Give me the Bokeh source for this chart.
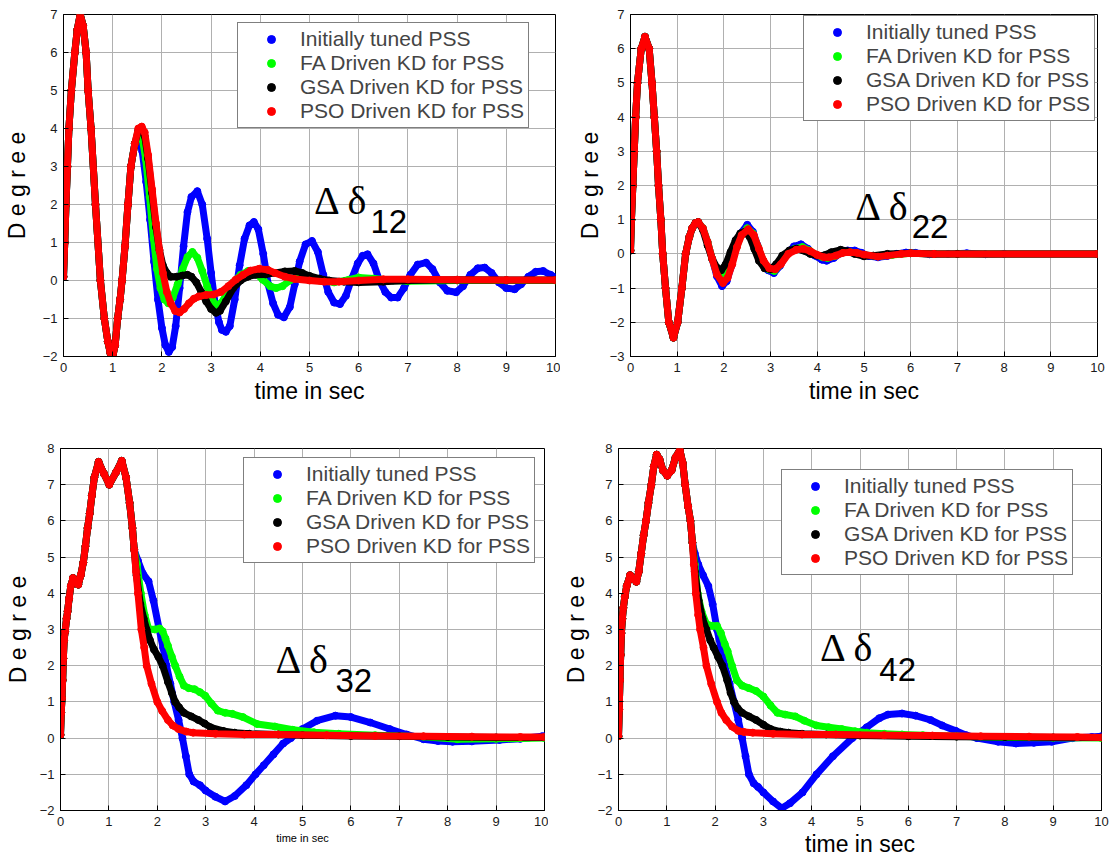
from bokeh.plotting import figure
from bokeh.models import Range1d, Label, Legend, LegendItem, FixedTicker
from bokeh.layouts import column, row
from bokeh.embed import file_html
from bokeh.resources import INLINE

# ---------------- data ----------------
x_ticks = [0, 1, 2, 3, 4, 5, 6, 7, 8, 9, 10]
series_names = ["Initially tuned PSS", "FA Driven KD for PSS",
                "GSA Driven KD for PSS", "PSO Driven KD for PSS"]
series_colors = ["#0000ff", "#00ff00", "#000000", "#ff0000"]

# ---- Delta delta 12 ----
d12_common_t = [0, 0.025, 0.05, 0.08, 0.11, 0.16, 0.23, 0.28, 0.34, 0.40, 0.46, 0.50, 0.56,
                0.65, 0.75, 0.83, 0.90, 0.95, 1.0, 1.05, 1.10, 1.15, 1.19, 1.25, 1.31, 1.37, 1.45]
d12_common_v = [0.1, 1.0, 2.0, 3.0, 4.0, 5.0, 6.0, 6.6, 7.0, 6.7, 6.0, 5.0, 4.0,
                2.0, 0.0, -1.0, -1.6, -1.9, -2.0, -1.7, -1.0, -0.5, 0.0, 0.9, 2.0, 3.0, 3.6]
d12_blue_t = [1.52, 1.6, 1.68, 1.76, 1.84, 1.92, 2.0, 2.07, 2.14, 2.21, 2.28, 2.36, 2.44, 2.52, 2.6,
              2.72, 2.82, 2.92, 3.0, 3.08, 3.16, 3.22, 3.3, 3.38, 3.48, 3.58, 3.68, 3.78, 3.87, 3.96,
              4.06, 4.16, 4.26, 4.36, 4.48, 4.6, 4.7, 4.8, 4.92, 5.05, 5.17, 5.28, 5.38, 5.5, 5.62,
              5.74, 5.86, 5.98, 6.08, 6.18, 6.3, 6.42, 6.54, 6.66, 6.79, 6.92, 7.05, 7.2, 7.37, 7.5,
              7.65, 7.8, 7.98, 8.12, 8.27, 8.42, 8.56, 8.7, 8.85, 9.0, 9.17, 9.3, 9.45, 9.6, 9.75,
              9.9, 10.0]
d12_blue_v = [3.75, 3.4, 2.6, 1.6, 0.5, -0.5, -1.25, -1.7, -1.88, -1.75, -1.2, -0.2, 0.9, 1.8, 2.2,
              2.35, 2.0, 1.1, 0.2, -0.6, -1.1, -1.3, -1.35, -1.2, -0.5, 0.4, 1.1, 1.45, 1.54, 1.35,
              0.7, -0.1, -0.6, -0.9, -0.97, -0.7, -0.1, 0.5, 0.95, 1.04, 0.75, 0.15, -0.3, -0.58, -0.62,
              -0.4, 0.05, 0.45, 0.65, 0.69, 0.45, 0.0, -0.3, -0.45, -0.45, -0.2, 0.15, 0.42, 0.47, 0.3,
              -0.05, -0.27, -0.31, -0.15, 0.15, 0.32, 0.34, 0.2, -0.05, -0.2, -0.23, -0.1, 0.1, 0.23, 0.25,
              0.15, 0.08]
d12_green_t = [1.52, 1.56, 1.6, 1.67, 1.75, 1.83, 1.9, 1.97, 2.05, 2.13, 2.22, 2.32, 2.42, 2.52, 2.62,
               2.72, 2.82, 2.92, 3.02, 3.1, 3.2, 3.32, 3.45, 3.6, 3.75, 3.9, 4.05, 4.2, 4.32, 4.45,
               4.6, 4.8, 5.0, 5.2, 5.5, 5.8, 6.0, 6.3, 6.7, 7.0, 8.0, 9.0, 10.0]
d12_green_v = [3.8, 3.85, 3.75, 3.2, 2.2, 1.1, 0.3, -0.2, -0.5, -0.6, -0.45, -0.1, 0.3, 0.62, 0.75,
               0.6, 0.25, -0.15, -0.5, -0.65, -0.6, -0.35, -0.05, 0.15, 0.25, 0.2, 0.02, -0.15, -0.2, -0.15,
               0.0, 0.1, 0.08, 0.0, -0.05, 0.02, 0.08, 0.05, 0.0, -0.02, 0.0, 0.0, 0.0]
d12_black_t = [1.52, 1.59, 1.65, 1.72, 1.8, 1.88, 1.95, 2.02, 2.1, 2.18, 2.3, 2.42, 2.52, 2.6, 2.7,
               2.8, 2.9, 3.0, 3.1, 3.18, 3.3, 3.45, 3.6, 3.75, 3.9, 4.1, 4.3, 4.5, 4.7, 4.85, 5.0,
               5.2, 5.4, 5.7, 6.0, 6.5, 7.0, 8.0, 9.0, 10.0]
d12_black_v = [3.95, 4.0, 3.8, 3.2, 2.3, 1.4, 0.8, 0.4, 0.2, 0.1, 0.1, 0.13, 0.15, 0.1, -0.05,
               -0.3, -0.55, -0.75, -0.85, -0.8, -0.55, -0.2, 0.0, 0.1, 0.15, 0.16, 0.2, 0.24, 0.25, 0.2, 0.12,
               0.05, 0.0, -0.03, -0.05, -0.03, 0.0, 0.02, 0.01, 0.01]
d12_red_t = [1.52, 1.59, 1.65, 1.72, 1.8, 1.88, 1.95, 2.02, 2.1, 2.18, 2.27, 2.36, 2.45, 2.55, 2.65,
             2.75, 2.9, 3.05, 3.2, 3.35, 3.5, 3.65, 3.8, 3.98, 4.15, 4.3, 4.5, 4.7, 5.0, 5.3, 5.6,
             6.0, 6.5, 7.0, 8.0, 9.0, 10.0]
d12_red_v = [4.0, 4.05, 3.9, 3.3, 2.4, 1.5, 0.8, 0.2, -0.3, -0.6, -0.8, -0.84, -0.75, -0.6, -0.48,
             -0.42, -0.38, -0.37, -0.3, -0.15, 0.02, 0.15, 0.26, 0.31, 0.28, 0.2, 0.1, 0.04, 0.0, -0.03, -0.03,
             0.0, 0.03, 0.03, 0.02, 0.01, 0.01]

# ---- Delta delta 22 ----
d22_common_t = [0, 0.02, 0.05, 0.08, 0.11, 0.15, 0.23, 0.31, 0.40, 0.46, 0.51, 0.56, 0.60, 0.65,
                0.69, 0.75, 0.82, 0.92, 1.01, 1.10, 1.18, 1.26, 1.32, 1.39, 1.45]
d22_common_v = [0.1, 1.0, 2.0, 3.0, 4.0, 5.0, 6.0, 6.35, 6.0, 5.0, 4.0, 3.0, 2.0, 1.0,
                0.0, -1.0, -2.0, -2.45, -2.0, -1.0, 0.0, 0.5, 0.75, 0.9, 0.93]
d22_blue_t = [1.55, 1.65, 1.75, 1.85, 1.96, 2.06, 2.16, 2.26, 2.36, 2.5, 2.62, 2.72, 2.82, 2.95, 3.07,
              3.2, 3.35, 3.5, 3.65, 3.8, 3.95, 4.1, 4.2, 4.35, 4.5, 4.65, 4.8, 4.95, 5.1, 5.3, 5.5,
              5.7, 5.9, 6.1, 6.4, 6.8, 7.2, 7.6, 8.0, 10.0]
d22_blue_v = [0.75, 0.35, -0.15, -0.65, -0.94, -0.8, -0.35, 0.2, 0.6, 0.85, 0.65, 0.25, -0.15, -0.48, -0.56,
              -0.35, 0.0, 0.22, 0.28, 0.15, -0.05, -0.17, -0.2, -0.12, 0.02, 0.1, 0.1, 0.03, -0.06, -0.1, -0.06,
              0.0, 0.04, 0.03, -0.01, 0.0, 0.02, -0.01, 0.0, 0.0]
d22_green_t = [1.55, 1.65, 1.75, 1.85, 1.97, 2.07, 2.17, 2.27, 2.37, 2.5, 2.62, 2.73, 2.84, 2.96, 3.08,
               3.2, 3.36, 3.52, 3.68, 3.83, 3.98, 4.12, 4.22, 4.38, 4.52, 4.68, 4.83, 5.0, 5.3, 5.6,
               6.0, 6.5, 7.0, 10.0]
d22_green_v = [0.75, 0.35, -0.15, -0.55, -0.72, -0.6, -0.25, 0.2, 0.55, 0.75, 0.6, 0.2, -0.2, -0.45, -0.5,
               -0.32, 0.0, 0.15, 0.2, 0.1, -0.03, -0.1, -0.12, -0.06, 0.03, 0.06, 0.03, -0.03, -0.07, -0.03,
               0.02, 0.0, 0.0, 0.0]
d22_black_t = [1.55, 1.65, 1.75, 1.85, 1.94, 2.04, 2.14, 2.25, 2.35, 2.45, 2.55, 2.65, 2.75, 2.87, 3.0,
               3.12, 3.25, 3.4, 3.55, 3.7, 3.85, 4.0, 4.15, 4.3, 4.5, 4.65, 4.8, 5.0, 5.2, 5.5, 6.0,
               6.5, 7.0, 10.0]
d22_black_v = [0.7, 0.25, -0.15, -0.4, -0.48, -0.3, 0.05, 0.4, 0.6, 0.65, 0.5, 0.15, -0.2, -0.42, -0.45,
               -0.3, -0.05, 0.1, 0.15, 0.1, 0.0, -0.05, -0.04, 0.05, 0.12, 0.08, 0.0, -0.07, -0.05, 0.0, 0.02,
               0.0, 0.0, 0.0]
d22_red_t = [1.55, 1.65, 1.75, 1.85, 1.98, 2.08, 2.18, 2.28, 2.38, 2.52, 2.64, 2.75, 2.85, 2.97, 3.1,
             3.22, 3.38, 3.55, 3.7, 3.85, 4.0, 4.15, 4.25, 4.4, 4.55, 4.7, 4.85, 5.0, 5.3, 5.5, 5.8,
             6.0, 6.5, 10.0]
d22_red_v = [0.75, 0.35, -0.15, -0.6, -0.85, -0.7, -0.3, 0.2, 0.55, 0.72, 0.55, 0.15, -0.2, -0.42, -0.45,
             -0.3, 0.0, 0.12, 0.15, 0.08, -0.03, -0.1, -0.1, -0.05, 0.03, 0.05, 0.03, -0.02, -0.08, -0.05, 0.0,
             0.02, 0.0, 0.0]

# ---- Delta delta 32 ----
d32_common_t = [0, 0.015, 0.03, 0.044, 0.059, 0.074, 0.096, 0.125, 0.147, 0.177, 0.213, 0.258, 0.31,
                0.368, 0.419, 0.471, 0.515, 0.559, 0.603, 0.648, 0.699, 0.787, 0.9, 1.008, 1.15,
                1.266, 1.354, 1.428, 1.486, 1.523]
d32_common_v = [0.09, 0.7, 1.1, 1.6, 2.2, 2.7, 2.95, 3.3, 3.5, 3.85, 4.2, 4.42, 4.35,
                4.24, 4.5, 4.85, 5.3, 5.8, 6.2, 6.7, 7.2, 7.63, 7.3, 7.0, 7.35,
                7.66, 7.2, 6.5, 5.8, 5.2]
d32_blue_t = [1.6, 1.7, 1.82, 1.92, 2.04, 2.12, 2.19, 2.27, 2.35, 2.44, 2.52, 2.59, 2.66, 2.75, 2.88,
              3.0, 3.2, 3.4, 3.6, 3.84, 4.03, 4.2, 4.4, 4.6, 4.76, 5.0, 5.3, 5.68, 6.0, 6.4, 6.8,
              7.15, 7.5, 7.8, 8.1, 8.5, 9.07, 9.5, 9.95, 10.0]
d32_blue_v = [4.9, 4.55, 4.33, 3.8, 3.0, 2.5, 2.0, 1.5, 1.0, 0.5, 0.0, -0.5, -1.0, -1.2, -1.3,
              -1.45, -1.62, -1.75, -1.6, -1.3, -1.0, -0.75, -0.45, -0.15, 0.0, 0.25, 0.48, 0.62, 0.58, 0.43, 0.25,
              0.1, -0.03, -0.08, -0.1, -0.09, -0.05, -0.02, 0.05, 0.05]
d32_green_t = [1.58, 1.66, 1.74, 1.82, 1.95, 2.05, 2.11, 2.17, 2.22, 2.3, 2.37, 2.46, 2.55, 2.65, 2.77,
               2.88, 2.99, 3.12, 3.25, 3.4, 3.55, 3.77, 4.06, 4.43, 4.8, 5.24, 5.75, 6.5, 7.5, 8.2,
               9.0, 10.0]
d32_green_v = [4.8, 4.0, 3.4, 3.02, 3.0, 3.03, 2.95, 2.75, 2.55, 2.25, 2.0, 1.7, 1.45, 1.38, 1.35,
               1.27, 1.17, 0.95, 0.76, 0.7, 0.67, 0.58, 0.39, 0.32, 0.23, 0.16, 0.12, 0.08, 0.04, -0.03,
               -0.02, 0.0]
d32_black_t = [1.57, 1.65, 1.72, 1.78, 1.85, 1.93, 2.02, 2.11, 2.22, 2.3, 2.37, 2.45, 2.55, 2.7, 2.85,
               2.98, 3.1, 3.36, 3.6, 3.9, 4.5, 5.0, 6.0, 7.0, 8.0, 9.0, 10.0]
d32_black_v = [4.5, 3.7, 3.3, 3.0, 2.7, 2.45, 2.25, 2.0, 1.55, 1.25, 1.0, 0.85, 0.7, 0.6, 0.5,
               0.4, 0.3, 0.2, 0.15, 0.12, 0.1, 0.08, 0.06, 0.05, 0.03, 0.02, 0.02]
d32_red_t = [1.56, 1.6, 1.67, 1.73, 1.78, 1.88, 2.0, 2.1, 2.22, 2.32, 2.44, 2.6, 2.74, 3.2, 3.8,
             4.5, 5.5, 6.5, 7.5, 8.5, 9.5, 10.0]
d32_red_v = [4.6, 4.0, 3.0, 2.5, 2.0, 1.5, 1.0, 0.75, 0.5, 0.35, 0.25, 0.18, 0.15, 0.12, 0.1,
             0.1, 0.08, 0.06, 0.05, 0.04, 0.03, 0.03]

# ---- Delta delta 42 ----
d42_common_t = [0, 0.015, 0.03, 0.045, 0.06, 0.08, 0.1, 0.13, 0.17, 0.24, 0.3, 0.37, 0.42, 0.47,
                0.52, 0.57, 0.62, 0.68, 0.73, 0.79, 0.85, 0.92, 1.01, 1.1, 1.18, 1.27, 1.33, 1.38,
                1.44, 1.49, 1.53]
d42_common_v = [0.05, 0.8, 1.6, 2.3, 2.9, 3.3, 3.6, 3.9, 4.2, 4.5, 4.4, 4.32, 4.6, 5.1,
                5.6, 6.0, 6.5, 7.0, 7.5, 7.83, 7.7, 7.4, 7.25, 7.4, 7.75, 7.96, 7.6, 7.0,
                6.4, 6.0, 5.4]
d42_blue_t = [1.58, 1.65, 1.75, 1.86, 1.95, 2.04, 2.12, 2.2, 2.3, 2.39, 2.48, 2.56, 2.63, 2.7, 2.8,
              2.89, 3.0, 3.2, 3.38, 3.55, 3.81, 4.1, 4.44, 4.84, 5.14, 5.4, 5.58, 5.87, 6.15, 6.46,
              6.7, 6.98, 7.2, 7.42, 7.86, 8.23, 8.6, 8.97, 9.4, 9.8, 10.0]
d42_blue_v = [5.1, 4.8, 4.5, 4.2, 3.7, 3.0, 2.5, 2.0, 1.5, 1.0, 0.5, 0.0, -0.5, -1.0, -1.25,
              -1.35, -1.5, -1.75, -1.94, -1.8, -1.5, -1.0, -0.5, 0.0, 0.3, 0.55, 0.65, 0.68, 0.62, 0.5,
              0.35, 0.2, 0.08, 0.0, -0.1, -0.15, -0.13, -0.1, 0.0, 0.03, 0.05]
d42_green_t = [1.58, 1.64, 1.72, 1.82, 1.95, 2.04, 2.12, 2.2, 2.26, 2.35, 2.45, 2.56, 2.7, 2.85, 3.0,
               3.15, 3.29, 3.45, 3.66, 3.85, 4.1, 4.35, 4.62, 4.9, 5.14, 5.5, 5.87, 6.3, 7.0, 8.0,
               9.0, 10.0]
d42_green_v = [4.8, 4.0, 3.5, 3.15, 3.1, 3.1, 2.9, 2.6, 2.4, 2.0, 1.6, 1.45, 1.38, 1.3, 1.15,
               0.9, 0.7, 0.65, 0.6, 0.48, 0.35, 0.3, 0.25, 0.19, 0.15, 0.12, 0.1, 0.08, 0.05, 0.02,
               0.01, 0.0]
d42_black_t = [1.58, 1.66, 1.74, 1.82, 1.9, 1.97, 2.06, 2.15, 2.25, 2.32, 2.39, 2.47, 2.56, 2.7, 2.85,
               3.0, 3.15, 3.35, 3.52, 3.8, 4.3, 5.0, 6.0, 7.0, 8.0, 9.0, 10.0]
d42_black_v = [4.6, 3.8, 3.3, 3.0, 2.7, 2.5, 2.25, 2.0, 1.6, 1.25, 1.0, 0.82, 0.7, 0.6, 0.5,
               0.37, 0.25, 0.18, 0.15, 0.12, 0.1, 0.07, 0.05, 0.04, 0.03, 0.02, 0.02]
d42_red_t = [1.56, 1.6, 1.65, 1.69, 1.76, 1.82, 1.92, 2.04, 2.13, 2.23, 2.35, 2.48, 2.6, 2.78, 3.2,
             3.8, 4.5, 5.5, 6.5, 7.5, 8.5, 9.5, 10.0]
d42_red_v = [4.8, 4.0, 3.4, 3.0, 2.5, 2.0, 1.5, 1.0, 0.7, 0.5, 0.32, 0.2, 0.17, 0.15, 0.12,
             0.1, 0.1, 0.08, 0.07, 0.05, 0.04, 0.03, 0.02]

FONT = "Liberation Sans"


def make_panel(common_t, common_v, tails, y_lo, y_hi, sub, dlt_xy, sub_xy,
               legend_xy, borders, frame_wh, xlabel_size, ylabel_standoff, xlabel_standoff):
    bl, br, bt, bb = borders
    fw, fh = frame_wh
    p = figure(width=bl + fw + br, height=bt + fh + bb,
               x_range=Range1d(0, 10), y_range=Range1d(y_lo, y_hi),
               output_backend="svg", toolbar_location=None,
               min_border_left=bl, min_border_right=br,
               min_border_top=bt, min_border_bottom=bb)
    p.background_fill_color = "white"
    p.border_fill_color = "white"
    p.outline_line_color = "black"
    p.outline_line_width = 1
    p.xaxis.ticker = FixedTicker(ticks=x_ticks)
    p.yaxis.ticker = FixedTicker(ticks=list(range(y_lo, y_hi + 1)))
    for ax in (p.xaxis[0], p.yaxis[0]):
        ax.major_tick_in = 5
        ax.major_tick_out = 0
        ax.minor_tick_line_color = None
        ax.axis_line_color = "black"
        ax.major_tick_line_color = "black"
        ax.major_label_text_font = FONT
        ax.major_label_text_font_size = "13px"
        ax.major_label_text_color = "#1a1a1a"
        ax.major_label_standoff = 6
        ax.axis_label_text_font = FONT
        ax.axis_label_text_font_style = "normal"
        ax.axis_label_text_color = "black"
    p.xaxis.axis_label = "time in sec"
    p.xaxis.axis_label_text_font_size = xlabel_size
    p.xaxis.axis_label_standoff = xlabel_standoff
    p.yaxis.axis_label = "D e g r e e"
    p.yaxis.axis_label_text_font_size = "23px"
    p.yaxis.axis_label_standoff = ylabel_standoff
    p.grid.grid_line_color = "#b0b0b0"
    p.grid.grid_line_width = 1

    items = []
    for (tt, vv), name, col in zip(tails, series_names, series_colors):
        t = common_t + tt
        v = common_v + vv
        p.line(t, v, line_color=col, line_width=7, line_cap="round", line_join="round")
        r = p.scatter(t, v, size=7, fill_color=col, line_color=col)
        items.append(LegendItem(label=name, renderers=[r]))

    leg = Legend(items=items, location=legend_xy)
    leg.margin = 0
    leg.padding = 4
    leg.spacing = 0
    leg.glyph_width = 58
    leg.glyph_height = 20
    leg.label_height = 20
    leg.label_standoff = 0
    leg.label_text_font = FONT
    leg.label_text_font_size = "21px"
    leg.border_line_color = "black"
    leg.border_line_width = 1
    leg.background_fill_color = "white"
    leg.background_fill_alpha = 1.0
    p.add_layout(leg)

    p.add_layout(Label(x=dlt_xy[0], y=dlt_xy[1], text="\u0394 \u03b4", y_offset=12,
                       text_font="Liberation Serif", text_font_size="40px",
                       text_color="black", text_baseline="alphabetic"))
    p.add_layout(Label(x=sub_xy[0], y=sub_xy[1], text=sub, y_offset=12,
                       text_font=FONT, text_font_size="33px",
                       text_color="black", text_baseline="alphabetic"))
    return p


p1 = make_panel(d12_common_t, d12_common_v,
                [(d12_blue_t, d12_blue_v), (d12_green_t, d12_green_v),
                 (d12_black_t, d12_black_v), (d12_red_t, d12_red_v)],
                -2, 7, "12", (5.09, 1.78), (6.24, 1.25), (174, 228),
                (60, 5, 14, 63), (495, 343), "23px", 10, 3)
p2 = make_panel(d22_common_t, d22_common_v,
                [(d22_blue_t, d22_blue_v), (d22_green_t, d22_green_v),
                 (d22_black_t, d22_black_v), (d22_red_t, d22_red_v)],
                -3, 7, "22", (4.81, 1.03), (6.02, 0.45), (173, 235),
                (70, 20, 10, 64), (467, 346), "23px", 4, 3)
p3 = make_panel(d32_common_t, d32_common_v,
                [(d32_blue_t, d32_blue_v), (d32_green_t, d32_green_v),
                 (d32_black_t, d32_black_v), (d32_red_t, d32_red_v)],
                -2, 8, "32", (4.44, 1.83), (5.68, 1.26), (183, 247),
                (60, 4, 28, 47), (484, 364), "11px", 6, 3)
p4 = make_panel(d42_common_t, d42_common_v,
                [(d42_blue_t, d42_blue_v), (d42_green_t, d42_green_v),
                 (d42_black_t, d42_black_v), (d42_red_t, d42_red_v)],
                -2, 8, "42", (4.17, 2.16), (5.40, 1.56), (163, 235),
                (70, 16, 28, 48), (483, 363), "23px", 6, 2)

layout = column(row(p1, p2), row(p3, p4))
open("out.html", "w").write(file_html(layout, INLINE))
